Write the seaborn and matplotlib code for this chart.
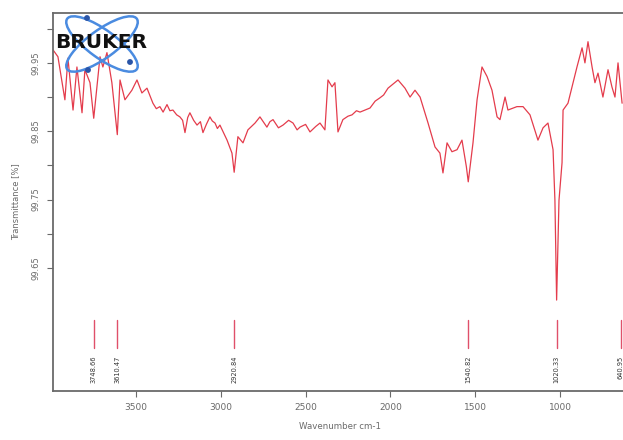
import numpy as np
import pandas as pd
import matplotlib
matplotlib.use("Agg")
import matplotlib.pyplot as plt
from matplotlib.patches import Ellipse, Circle
import seaborn as sns

# IR spectrum (wavenumber in cm-1, transmittance in %)
wavenumber = [
    3989, 3960, 3919, 3901, 3871, 3848, 3818, 3801, 3771, 3749, 3712, 3695,
    3671, 3642, 3610, 3594, 3565, 3524, 3494, 3465, 3435, 3400, 3380, 3359,
    3340, 3317, 3300, 3282, 3260, 3241, 3225, 3211, 3195, 3182, 3160, 3140,
    3120, 3105, 3085, 3064, 3050, 3034, 3020, 3005, 2963, 2934, 2921, 2899,
    2869, 2840, 2798, 2769, 2728, 2710, 2692, 2660, 2633, 2600, 2574, 2550,
    2533, 2500, 2474, 2440, 2415, 2386, 2368, 2344, 2327, 2309, 2280, 2250,
    2226, 2200, 2179, 2150, 2120, 2090, 2061, 2040, 2014, 1955, 1914, 1884,
    1855, 1825, 1778, 1737, 1708, 1690, 1666, 1637, 1607, 1578, 1552, 1541,
    1513, 1489, 1460, 1430, 1401, 1371, 1354, 1324, 1307, 1254, 1218, 1177,
    1130, 1100, 1071, 1041, 1030, 1020, 1006, 988, 982, 953, 923, 900, 870,
    853, 835, 811, 794, 776, 747, 717, 694, 676, 658, 634,
]
transmittance = [
    99.969, 99.959, 99.896, 99.957, 99.881, 99.944, 99.877, 99.940, 99.921,
    99.869, 99.959, 99.944, 99.965, 99.921, 99.845, 99.925, 99.896, 99.910,
    99.925, 99.906, 99.913, 99.891, 99.883, 99.886, 99.878, 99.889, 99.880,
    99.881, 99.874, 99.871, 99.866, 99.848, 99.870, 99.877, 99.866, 99.859,
    99.864, 99.848, 99.860, 99.871, 99.865, 99.862, 99.854, 99.859, 99.837,
    99.818, 99.790, 99.842, 99.833, 99.852, 99.862, 99.871, 99.856, 99.864,
    99.867, 99.855, 99.859, 99.866, 99.862, 99.852, 99.856, 99.860, 99.849,
    99.857, 99.862, 99.852, 99.925, 99.915, 99.921, 99.849, 99.867, 99.872,
    99.874, 99.880, 99.878, 99.881, 99.884, 99.894, 99.899, 99.903, 99.913,
    99.925, 99.913, 99.900, 99.910, 99.900, 99.862, 99.827, 99.818, 99.789,
    99.833, 99.820, 99.823, 99.837, 99.798, 99.776, 99.833, 99.896, 99.944,
    99.930, 99.910, 99.871, 99.867, 99.900, 99.881, 99.886, 99.886, 99.874,
    99.837, 99.855, 99.862, 99.823, 99.749, 99.603, 99.749, 99.804, 99.881,
    99.891, 99.921, 99.944, 99.972, 99.950, 99.981, 99.944, 99.921, 99.935,
    99.900, 99.940, 99.915, 99.900, 99.950, 99.891,
]

# picked peaks
peak_positions = [3748.66, 3610.47, 2920.84, 1540.82, 1020.33, 640.95]
peak_labels = ["3748.66", "3610.47", "2920.84", "1540.82", "1020.33", "640.95"]

x_ticks = [3500, 3000, 2500, 2000, 1500, 1000]
y_ticks = [100.00, 99.95, 99.90, 99.85, 99.80, 99.75, 99.70, 99.65]
y_tick_labels = ["", "99.95", "", "99.85", "", "99.75", "", "99.65"]

spectrum = pd.DataFrame({"wavenumber": wavenumber, "transmittance": transmittance})

sns.set_style("ticks")
plt.rcParams["font.family"] = ["DejaVu Sans"]

axis_grey = "#6a6a6a"
line_red = "#e43c4c"

fig = plt.figure(figsize=(6.23, 4.40), dpi=100)
ax = fig.add_axes([0.0851, 0.1114, 0.9197, 0.8591])

sns.lineplot(data=spectrum, x="wavenumber", y="transmittance", sort=False,
             estimator=None, color=line_red, linewidth=0.9, ax=ax)

ax.set_xlim(3989, 611)
ax.set_ylim(99.470, 100.023)

# peak markers with rotated labels
for pos, lab in zip(peak_positions, peak_labels):
    ax.plot([pos, pos], [99.533, 99.574], color="#e0506a", linewidth=1.0)
    ax.text(pos, 99.522, lab, rotation=90, ha="center", va="top",
            fontsize=4.8, color="#333333")

ax.set_xticks(x_ticks)
ax.set_xticklabels([str(v) for v in x_ticks], fontsize=6.5, color=axis_grey)
ax.set_yticks(y_ticks)
ax.set_yticklabels(y_tick_labels, fontsize=6.0, color=axis_grey,
                   rotation=90, va="center")
ax.tick_params(axis="both", direction="out", length=4, width=0.8,
               color=axis_grey, pad=5)

ax.set_xlabel("Wavenumber cm-1", fontsize=6.2, color=axis_grey, labelpad=7)
ax.set_ylabel("Transmittance [%]", fontsize=6.0, color=axis_grey, labelpad=8)

for side in ("left", "bottom", "top"):
    ax.spines[side].set_visible(True)
    ax.spines[side].set_color(axis_grey)
    ax.spines[side].set_linewidth(1.3)
ax.spines["right"].set_visible(False)

# company logo in the upper left corner
logo = fig.add_axes([60 / 623, 1 - 78 / 440, 90 / 623, 68 / 440])
logo.set_xlim(0, 90)
logo.set_ylim(68, 0)
logo.axis("off")
logo.patch.set_alpha(0)
blue = "#4a8be0"
logo.add_patch(Ellipse((42, 34), 86, 28, angle=36, fill=False,
                       edgecolor=blue, linewidth=1.8))
logo.add_patch(Ellipse((42, 34), 86, 28, angle=-36, fill=False,
                       edgecolor=blue, linewidth=1.8))
for cx, cy in [(27, 8), (28, 60), (70, 52)]:
    logo.add_patch(Circle((cx, cy), 2.2, color="#2a55a8"))
fig.text(101 / 623, 1 - 43 / 440, "BRUKER", ha="center", va="center",
         fontsize=14.5, fontweight="bold", color="#111111")

fig.savefig("out.png", dpi=100)
